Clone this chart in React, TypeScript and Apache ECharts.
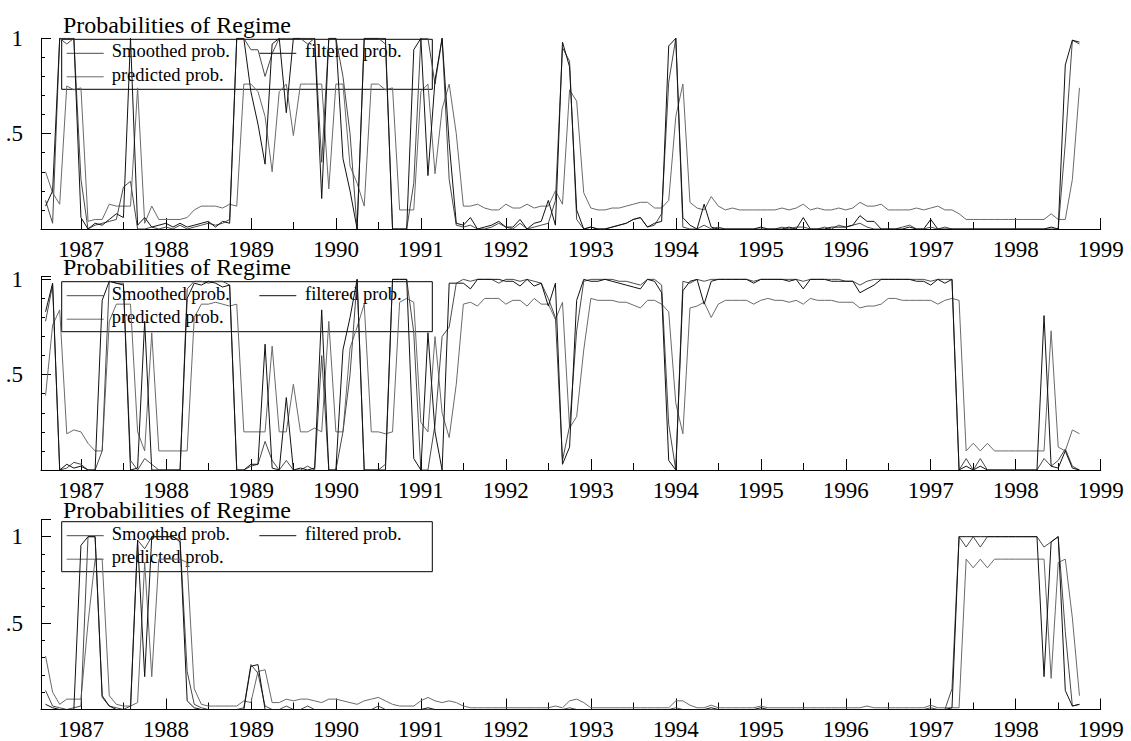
import React, { useEffect, useRef } from 'react';
import * as echarts from 'echarts';

// Monthly observations, Aug 1986 .. Oct 1998 (147 months)
const START_YEAR = 1986;
const START_MONTH = 8;

// Regime 1
const smoothed1 = [
  .15,.03,1,.97,1,.26,0,.02,.03,.04,
  .05,.22,.25,0,0,.01,0,.01,0,.02,
  0,.01,.02,.03,.02,.03,.05,1,1,.94,
  .94,.8,.92,1,1,1,1,.97,1,.35,
  1,1,.8,.5,0,1,1,1,.97,0,
  0,0,.24,1,1,.76,1,.26,.02,.01,
  .02,0,0,.01,.03,.01,0,.03,0,.01,
  .02,.03,.15,.95,.88,.05,0,.01,0,0,
  .01,.02,.03,.05,.06,.01,.02,.08,.77,1,
  .01,0,0,.02,0,.01,0,0,0,0,
  0,0,0,0,.01,0,.01,.01,0,0,
  .01,0,.02,.01,.02,.03,.01,0,0,0,
  0,.01,.02,0,0,.01,0,.01,0,0,
  0,0,0,0,0,0,0,0,0,0,
  0,0,0,0,.45,.99,.97
];
const filtered1 = [
  .12,.2,1,1,1,.06,0,.03,.02,.05,
  .08,.06,1,.02,.06,.01,.02,.03,.01,.03,
  .01,.02,.03,.04,.01,.04,.03,1,1,.72,
  .55,.34,.97,1,.61,1,1,1,1,.16,
  1,1,.37,.2,0,1,1,1,1,0,
  0,0,.94,1,.28,.78,1,.45,.03,.02,
  .06,0,.01,.02,.04,.01,.01,.05,0,.03,
  .04,.15,.02,.98,.85,.1,0,.01,0,0,
  .01,.02,.03,.05,.06,.01,.03,.04,.96,1,
  .06,.02,0,.13,.01,0,0,0,0,0,
  0,.01,0,0,0,.01,0,.06,0,0,
  0,.01,.01,.01,.02,.07,.04,.04,0,0,
  0,0,.01,0,0,.05,0,0,0,0,
  0,0,0,0,0,0,0,0,0,0,
  0,0,.01,0,.86,.99,.98
];
const predicted1 = [
  .30,.19,.13,.75,.73,.74,.04,.05,.05,.13,
  .12,.12,.12,.74,.03,.12,.05,.05,.05,.05,
  .06,.10,.12,.12,.12,.11,.13,.12,.76,.76,
  .72,.59,.30,.72,.76,.49,.76,.76,.76,.76,
  .21,.76,.76,.33,.24,.12,.76,.76,.73,.74,
  .10,.10,.10,.72,.76,.29,.63,.76,.5,.12,
  .12,.13,.11,.10,.10,.13,.11,.11,.13,.11,
  .12,.12,.2,.13,.73,.67,.19,.11,.1,.1,
  .11,.11,.12,.13,.14,.14,.11,.11,.15,.59,
  .76,.14,.11,.10,.17,.12,.10,.11,.10,.10,
  .10,.10,.10,.10,.11,.10,.11,.13,.10,.11,
  .10,.10,.11,.10,.11,.14,.12,.12,.13,.10,
  .10,.10,.10,.11,.10,.11,.12,.10,.10,.08,
  .05,.05,.05,.05,.05,.05,.05,.05,.05,.05,
  .05,.05,.08,.05,.05,.26,.74
];

// Regime 2
const smoothed2 = [
  .78,.97,0,.01,.04,.03,0,0,.1,.99,
  .98,.98,.05,0,.06,.03,0,0,0,0,
  .95,.99,.99,.98,.99,.99,.97,0,0,.02,
  .03,.15,.05,0,.05,0,0,.02,0,.6,
  0,0,.2,.5,1,0,0,0,.03,1,
  1,1,.72,0,0,.24,.7,.75,.98,1,
  .99,1,1,1,.98,1,1,.99,1,.99,
  .98,.9,.8,.05,.23,.73,.99,1,1,1,
  1,.99,.99,.98,.97,1,1,.97,.24,0,
  .99,.98,1,.99,1,1,1,1,1,1,
  .99,1,1,1,1,1,1,.99,1,1,
  1,1,1,.99,.99,.97,.99,1,1,1,
  1,1,1,1,1,.99,1,1,1,0,
  .06,0,.06,0,0,0,0,0,0,0,
  0,.06,.02,.05,.11,.02,0
];
const filtered2 = [
  .83,.98,0,.03,.01,.02,0,0,.89,.99,
  .98,.97,0,.01,.78,0,0,0,0,0,
  .9,.98,.97,.99,.98,.96,.97,0,0,.03,
  .03,.66,.01,0,.38,0,.01,0,.01,.84,
  0,0,.63,.8,1,0,0,0,0,1,
  1,1,.06,0,.72,.2,0,.98,.98,.98,
  .95,1,1,1,1,.99,.99,.965,1,.965,
  .98,.86,.98,.03,.12,.89,1,.99,.99,1,
  .99,.98,.97,.96,.95,1,.99,.93,.05,0,
  .94,.99,1,.87,.99,1,1,1,1,1,
  .98,1,1,1,1,.99,1,.95,1,1,
  1,.99,.99,.99,.99,.93,.95,.97,1,1,
  1,1,1,.99,.99,.97,1,.98,1,0,
  .02,0,.02,0,0,0,0,0,0,0,
  0,.81,.02,.01,.1,.01,0
];
const predicted2 = [
  .39,.76,.84,.19,.21,.20,.14,.10,.10,.78,
  .87,.87,.87,.2,.1,.72,.1,.1,.1,.1,
  .1,.8,.87,.87,.88,.87,.86,.87,.2,.2,
  .2,.2,.65,.2,.2,.45,.2,.2,.22,.2,
  .78,.2,.2,.64,.75,.87,.2,.2,.19,.2,
  .88,.9,.88,.25,.2,.7,.3,.17,.45,.87,
  .88,.86,.9,.9,.9,.87,.89,.89,.86,.9,
  .87,.87,.79,.88,.22,.28,.63,.9,.89,.89,
  .89,.88,.88,.865,.85,.89,.89,.87,.83,.35,
  .19,.85,.86,.88,.80,.87,.89,.89,.89,.89,
  .87,.89,.9,.89,.89,.88,.89,.87,.9,.89,
  .89,.89,.88,.88,.88,.85,.86,.86,.87,.9,
  .9,.89,.89,.89,.89,.89,.87,.89,.9,.89,
  .1,.14,.1,.14,.1,.1,.1,.1,.1,.1,
  .1,.1,.73,.12,.1,.21,.19
];

// Regime 3
const smoothed3 = [
  .11,.02,.01,0,.01,.02,1,1,.07,.02,
  .01,0,.02,.98,.93,1,1,1,1,.98,
  .22,.03,.01,0,0,0,0,0,.01,.26,
  .21,.02,0,0,.02,0,0,.02,0,0,
  0,0,0,0,0,0,0,.02,0,0,
  0,0,0,0,0,0,0,0,0,0,
  0,0,0,0,0,0,0,0,0,0,
  0,0,0,0,.01,0,0,0,0,0,
  0,0,0,0,0,0,0,0,0,.01,
  0,0,0,0,0,0,0,0,0,0,
  0,0,0,0,0,0,0,0,0,0,
  0,0,0,0,0,0,0,0,0,0,
  0,0,0,0,0,.01,0,0,.12,1,
  .94,1,.94,1,1,1,1,1,1,1,
  1,.94,.97,1,.45,.02,.03
];
const filtered3 = [
  .03,.01,0,0,0,.95,1,1,.08,.02,
  0,0,0,.98,.19,1,1,1,1,.97,
  .05,.01,0,0,0,0,0,0,0,.25,
  .26,0,0,0,0,0,0,0,0,0,
  0,0,0,0,0,0,0,0,0,0,
  0,0,0,0,.01,0,0,0,0,0,
  0,0,0,0,0,0,0,0,0,0,
  0,0,0,0,0,0,0,0,0,0,
  0,0,0,0,0,0,0,0,0,0,
  0,0,0,0,.01,0,0,0,0,0,
  0,.01,0,0,0,0,0,0,0,0,
  0,0,0,0,0,0,0,0,0,0,
  0,0,0,0,0,0,0,0,.01,1,
  1,1,1,1,1,1,1,1,1,1,
  1,.19,.97,1,.11,.02,.03
];
const predicted3 = [
  .31,.10,.03,.06,.06,.06,.5,.87,.87,.08,
  .03,.02,.02,.04,.85,.19,.87,.87,.87,.87,
  .85,.12,.03,.02,.02,.02,.02,.02,.05,.04,
  .22,.23,.04,.04,.06,.05,.06,.06,.05,.04,
  .06,.06,.05,.04,.03,.05,.06,.07,.05,.03,
  .02,.02,.02,.05,.07,.05,.04,.05,.04,.02,
  .01,.01,.01,.01,.01,.01,.01,.01,.01,.01,
  .01,.01,.02,.01,.05,.06,.04,.01,.01,.01,
  .01,.01,.01,.01,.01,.01,.01,.01,.01,.05,
  .05,.025,.01,.01,.025,.01,.01,.01,.01,.01,
  .01,.02,.01,.01,.01,.01,.01,.01,.01,.01,
  .01,.01,.01,.01,.01,.01,.02,.01,.01,.01,
  .01,.01,.01,.01,.01,.025,.01,.01,.01,.01,
  .87,.82,.87,.82,.87,.87,.87,.87,.87,.87,
  .87,.87,.18,.85,.87,.53,.08
];

const yearTicks = [1987, 1988, 1989, 1990, 1991, 1992, 1993, 1994, 1995, 1996, 1997, 1998, 1999];
const halfYearTicks = [1987.5, 1988.5, 1989.5, 1990.5, 1991.5, 1992.5, 1993.5, 1994.5, 1995.5, 1996.5, 1997.5, 1998.5];
const legendNames = ['Smoothed prob.', 'filtered prob.', 'predicted prob.'];
const titleText = 'Probabilities of Regime';

const panels = [
  { s: smoothed1, f: filtered1, p: predicted1, yMax: 1, top: 38.3, height: 190.7, titleY: 24.9, boxTop: 39.3 },
  { s: smoothed2, f: filtered2, p: predicted2, yMax: 1.014, top: 276.7, height: 193.3, titleY: 267.4, boxTop: 281.7 },
  { s: smoothed3, f: filtered3, p: predicted3, yMax: 1.1, top: 519.4, height: 190.6, titleY: 509.9, boxTop: 521.7 },
];

const COLORS = { s: '#4a4a4a', f: '#111111', p: '#6a6a6a' };
const SERIF = '"Liberation Serif", "Times New Roman", serif';
const X_MIN = 1986.53;
const X_MAX = 1999;

const monthX = smoothed1.map((_, i) => START_YEAR + (START_MONTH - 1 + i) / 12);

export default function App() {
  const ref = useRef<HTMLDivElement>(null);
  useEffect(() => {
    if (!ref.current) return;
    const chart = echarts.init(ref.current, undefined, { renderer: 'svg' });

    const grid: any[] = [];
    const xAxis: any[] = [];
    const yAxis: any[] = [];
    const series: any[] = [];
    const graphic: any[] = [];

    panels.forEach((pn, k) => {
      grid.push({ left: 41, right: 30.3, top: pn.top, height: pn.height, containLabel: false });
      xAxis.push({
        type: 'value', gridIndex: k, min: X_MIN, max: X_MAX, position: 'bottom',
        axisLine: { show: true, lineStyle: { color: '#000', width: 1 } },
        axisTick: { show: true, inside: true, length: 11, customValues: yearTicks, lineStyle: { color: '#000', width: 1 } },
        axisLabel: {
          show: true, customValues: yearTicks, margin: 12, lineHeight: 16, color: '#000', fontSize: 23, fontFamily: SERIF,
          formatter: (v: number) => String(Math.round(v)),
        },
        splitLine: { show: false },
      });
      xAxis.push({
        type: 'value', gridIndex: k, min: X_MIN, max: X_MAX, position: 'bottom', offset: 0,
        axisLine: { show: false },
        axisTick: { show: true, inside: true, length: 7, customValues: halfYearTicks, lineStyle: { color: '#000', width: 1 } },
        axisLabel: { show: false },
        splitLine: { show: false },
      });
      yAxis.push({
        type: 'value', gridIndex: k, min: 0, max: pn.yMax, interval: 0.1, position: 'left',
        axisLine: { show: true, lineStyle: { color: '#000', width: 1 } },
        axisTick: { show: true, inside: true, length: 4, lineStyle: { color: '#000', width: 1 } },
        axisLabel: { show: false },
        splitLine: { show: false },
      });
      yAxis.push({
        type: 'value', gridIndex: k, min: 0, max: pn.yMax, interval: 0.5, position: 'left', offset: 0,
        axisLine: { show: false },
        axisTick: { show: true, inside: true, length: 10, lineStyle: { color: '#000', width: 1 } },
        axisLabel: {
          show: true, margin: 18, lineHeight: 16, color: '#000', fontSize: 23, fontFamily: SERIF,
          formatter: (v: number) => (Math.abs(v - 1) < 1e-6 ? '1' : Math.abs(v - 0.5) < 1e-6 ? '.5' : ''),
        },
        splitLine: { show: false },
      });

      const mk = (name: string, arr: number[], color: string) => ({
        type: 'line', name, xAxisIndex: 2 * k, yAxisIndex: 2 * k,
        data: monthX.map((x, i) => [x, arr[i]]),
        symbol: 'none', silent: true,
        lineStyle: { color, width: 1 },
      });
      series.push(mk(legendNames[2], pn.p, COLORS.p));
      series.push(mk(legendNames[0], pn.s, COLORS.s));
      series.push(mk(legendNames[1], pn.f, COLORS.f));

      // title
      graphic.push({
        type: 'text', x: 63, y: pn.titleY, silent: true,
        style: { text: titleText, font: `24px ${SERIF}`, lineHeight: 18, fill: '#000', align: 'left', verticalAlign: 'middle', textAlign: 'left', textVerticalAlign: 'middle' },
      });
      // legend box
      const bt = pn.boxTop;
      graphic.push({
        type: 'rect', silent: true,
        shape: { x: 61.7, y: bt, width: 370.6, height: 50 },
        style: { fill: 'none', stroke: '#000', lineWidth: 1 },
      });
      const items = [
        { name: legendNames[0], color: COLORS.s, lx: 66.7, tx: 111.7, row: 0 },
        { name: legendNames[1], color: COLORS.f, lx: 259.3, tx: 305, row: 0 },
        { name: legendNames[2], color: COLORS.p, lx: 66.7, tx: 111.7, row: 1 },
      ];
      items.forEach((it) => {
        const ly = bt + (it.row === 0 ? 14 : 37.5);
        graphic.push({
          type: 'line', silent: true,
          shape: { x1: it.lx, y1: ly, x2: it.lx + 37, y2: ly },
          style: { stroke: it.color, lineWidth: 1 },
        });
        graphic.push({
          type: 'text', x: it.tx, y: bt + (it.row === 0 ? 11.8 : 35.5), silent: true,
          style: { text: it.name, font: `18.5px ${SERIF}`, lineHeight: 16, fill: '#000', align: 'left', verticalAlign: 'middle', textAlign: 'left', textVerticalAlign: 'middle' },
        });
      });
    });

    chart.setOption({
      animation: false,
      backgroundColor: '#fff',
      grid, xAxis, yAxis, series, graphic,
    });
    return () => chart.dispose();
  }, []);
  return <div ref={ref} style={{ position: 'fixed', left: 0, top: 0, width: 1131, height: 741, background: '#fff' }} />;
}
